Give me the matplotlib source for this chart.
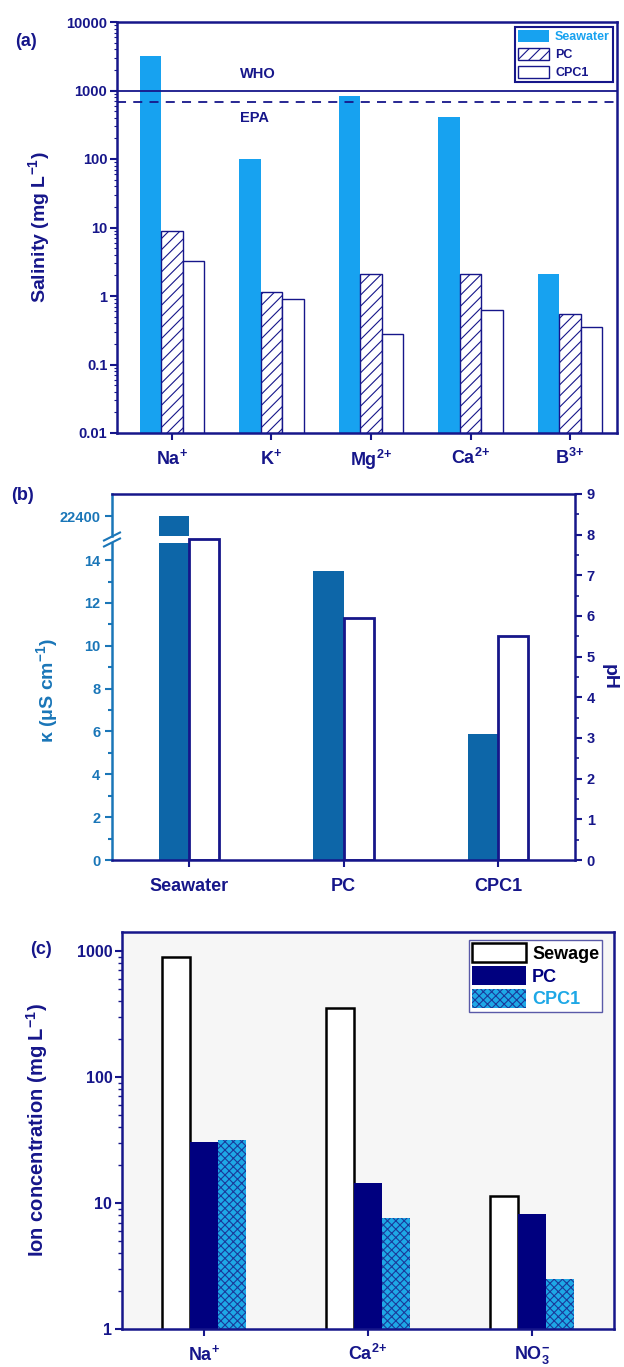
import matplotlib
matplotlib.use('Agg')
import matplotlib.pyplot as plt
import numpy as np
from matplotlib.ticker import LogLocator, NullFormatter, FixedLocator, MultipleLocator, FuncFormatter
from matplotlib.lines import Line2D

plt.rcParams['font.family'] = ['Liberation Sans', 'DejaVu Sans']
plt.rcParams['font.weight'] = 'bold'
plt.rcParams['axes.labelweight'] = 'bold'
plt.rcParams['mathtext.fontset'] = 'custom'
plt.rcParams['mathtext.rm'] = 'Liberation Sans:bold'
plt.rcParams['mathtext.it'] = 'Liberation Sans:bold'
plt.rcParams['mathtext.bf'] = 'Liberation Sans:bold'
plt.rcParams['mathtext.default'] = 'rm'
plt.rcParams['hatch.linewidth'] = 0.8

# ---------------- data ----------------
ions_a = ['Na$^{+}$', 'K$^{+}$', 'Mg$^{2\\!+}$', 'Ca$^{2\\!+}$', 'B$^{3\\!+}$']
seawater_a = [3170, 100, 835, 410, 2.1]
pc_a = [8.9, 1.14, 2.1, 2.1, 0.54]
cpc1_a = [3.2, 0.9, 0.28, 0.62, 0.35]
who_limit = 1000
epa_limit = 690

samples_b = ['Seawater', 'PC', 'CPC1']
kappa_b = [22400, 13.5, 5.9]
ph_b = [7.9, 5.95, 5.52]

ions_c = ['Na$^{+}$', 'Ca$^{2\\!+}$', 'NO$_3^{-}$']
sewage_c = [900, 353, 11.4]
pc_c = [30.5, 14.4, 8.2]
cpc1_c = [31.7, 7.6, 2.5]

# ---------------- style ----------------
NAVY = '#16168a'
SKY = '#17a2f0'
KBLUE = '#0d66a8'
KTXT = '#1a76b8'
CYAN = '#1ea8e6'
W, H = 624, 1367

fig = plt.figure(figsize=(W / 100, H / 100), dpi=100)


def box(l, t, r, b):
    return [l / W, 1 - b / H, (r - l) / W, (b - t) / H]


# ================= panel (a) =================
ax = fig.add_axes(box(117, 22, 617, 433))
xa = np.arange(1, len(ions_a) + 1)
wa = 0.216
ax.bar(xa - wa, seawater_a, wa, color=SKY, log=True, label='Seawater', zorder=2)
ax.bar(xa, pc_a, wa, facecolor='white', edgecolor=NAVY, hatch='///', lw=1.0,
       log=True, label='PC', zorder=2)
ax.bar(xa + wa, cpc1_a, wa, facecolor='white', edgecolor=NAVY, lw=1.0,
       log=True, label='CPC1', zorder=2)
ax.set_ylim(0.01, 10000)
ax.set_xlim(0.45, 5.47)
ax.axhline(who_limit, color=NAVY, lw=1.3, zorder=3)
ax.axhline(epa_limit, color=NAVY, lw=1.3, ls=(0, (5, 4)), zorder=3)
ax.text(1.68, 1740, 'WHO', color=NAVY, fontsize=10.5, ha='left', va='center')
ax.text(1.68, 400, 'EPA', color=NAVY, fontsize=10.5, ha='left', va='center')
ax.set_xticks(xa)
ax.set_xticklabels(ions_a)
ax.yaxis.set_major_locator(FixedLocator([0.01, 0.1, 1, 10, 100, 1000, 10000]))
ax.yaxis.set_minor_locator(LogLocator(base=10, subs=np.arange(2, 10), numticks=20))
ax.yaxis.set_major_formatter(FuncFormatter(lambda v, p: f'{v:g}'))
ax.yaxis.set_minor_formatter(NullFormatter())
ax.tick_params(axis='y', which='major', direction='out', length=5, width=1.5,
               colors=NAVY, labelsize=10.5, pad=2)
ax.tick_params(axis='y', which='minor', direction='out', length=2.5, width=0.8, colors=NAVY)
ax.tick_params(axis='x', direction='out', length=5, width=1.5, colors=NAVY,
               labelsize=13, pad=6)
for s in ax.spines.values():
    s.set_color(NAVY)
    s.set_linewidth(1.8)
ax.set_ylabel('Salinity (mg L$^{-1}$)', color=NAVY, fontsize=14)
ax.yaxis.set_label_coords(-0.13, 0.5)
leg = ax.legend(loc='upper right', bbox_to_anchor=(0.992, 0.988), borderaxespad=0,
                fontsize=9, handlelength=2.5, handleheight=1.05, labelspacing=0.4,
                handletextpad=0.45, borderpad=0.25, fancybox=False, framealpha=1)
leg.get_frame().set_edgecolor(NAVY)
leg.get_frame().set_linewidth(1.5)
for t, c in zip(leg.get_texts(), [SKY, NAVY, NAVY]):
    t.set_color(c)
fig.text(26 / W, 1 - 42 / H, '(a)', color=NAVY, fontsize=13, ha='center', va='center')

# ================= panel (b) =================
xb = np.arange(1, len(samples_b) + 1)
wb = 0.195
ax_low = fig.add_axes(box(112, 543, 575, 860))
ax_up = fig.add_axes(box(112, 494, 575, 536))
ax_ph = fig.add_axes(box(112, 494, 575, 860), zorder=5)
ax_ph.patch.set_alpha(0)

for a in (ax_low, ax_up):
    a.bar(xb, kappa_b, -wb, align='edge', color=KBLUE, zorder=2)
    a.set_xlim(0.5, 3.5)
    a.set_xticks([])
    for k in ('top', 'right', 'bottom'):
        a.spines[k].set_visible(False)
    a.spines['left'].set_color(KTXT)
    a.spines['left'].set_linewidth(1.8)
    a.tick_params(axis='y', which='both', colors=KTXT, labelsize=10.5, width=1.5)
    a.tick_params(axis='y', which='major', length=5)
    a.tick_params(axis='y', which='minor', length=3)

ax_low.set_ylim(0, 14.8)
ax_low.yaxis.set_major_locator(MultipleLocator(2))
ax_low.yaxis.set_minor_locator(MultipleLocator(1))
ax_up.set_ylim(22000, 22840)
ax_up.set_yticks([22400])
ax_up.set_yticklabels(['22400'])
ax_low.set_ylabel('κ (μS cm$^{-1}$)', color=KTXT, fontsize=14)
ax_low.yaxis.set_label_coords(-0.112, 0.536)

ax_ph.bar(xb, ph_b, wb, align='edge', facecolor='white', edgecolor=NAVY, lw=2.0, zorder=2)
ax_ph.set_xlim(0.5, 3.5)
ax_ph.set_ylim(0, 9)
ax_ph.yaxis.tick_right()
ax_ph.yaxis.set_label_position('right')
ax_ph.yaxis.set_major_locator(MultipleLocator(1))
ax_ph.yaxis.set_minor_locator(MultipleLocator(0.5))
ax_ph.set_xticks(xb)
ax_ph.set_xticklabels(samples_b)
ax_ph.spines['left'].set_visible(False)
for k in ('top', 'right', 'bottom'):
    ax_ph.spines[k].set_color(NAVY)
    ax_ph.spines[k].set_linewidth(1.8)
ax_ph.tick_params(axis='y', which='major', direction='out', length=5, width=1.5,
                  colors=NAVY, labelsize=10.5)
ax_ph.tick_params(axis='y', which='minor', direction='out', length=3, width=1.2, colors=NAVY)
ax_ph.tick_params(axis='x', direction='out', length=5, width=1.5, colors=NAVY,
                  labelsize=13, pad=8)
ax_ph.set_ylabel('pH', color=NAVY, fontsize=14, rotation=270, va='center')
ax_ph.yaxis.set_label_coords(1.073, 0.5)

# axis break marks on the κ axis
for dy in (-3, 3):
    yc = 539.5 + dy
    fig.add_artist(Line2D([(112 - 8) / W, (112 + 8) / W],
                          [1 - (yc + 4) / H, 1 - (yc - 4) / H],
                          color=KTXT, lw=1.5, transform=fig.transFigure))
fig.text(22 / W, 1 - 495 / H, '(b)', color=NAVY, fontsize=13, ha='center', va='center')

# ================= panel (c) =================
axc = fig.add_axes(box(122, 932, 614, 1329))
axc.set_facecolor('#f6f6f6')
xc = np.arange(1, len(ions_c) + 1)
wc = 0.17
axc.bar(xc - wc, sewage_c, wc, facecolor='white', edgecolor='black', lw=1.8,
        log=True, label='Sewage', zorder=2)
axc.bar(xc, pc_c, wc, color='#00007f', log=True, label='PC', zorder=2)
axc.bar(xc + wc, cpc1_c, wc, facecolor=CYAN, edgecolor='#1a3a9a', hatch='xxxx', lw=0,
        log=True, label='CPC1', zorder=2)
axc.set_ylim(1, 1414)
axc.set_xlim(0.5, 3.5)
axc.set_xticks(xc)
axc.set_xticklabels(ions_c)
axc.yaxis.set_major_locator(FixedLocator([1, 10, 100, 1000]))
axc.yaxis.set_minor_locator(LogLocator(base=10, subs=np.arange(2, 10), numticks=20))
axc.yaxis.set_major_formatter(FuncFormatter(lambda v, p: f'{v:g}'))
axc.yaxis.set_minor_formatter(NullFormatter())
axc.tick_params(axis='y', which='major', direction='out', length=5, width=1.5,
                colors=NAVY, labelsize=11.5, pad=2)
axc.tick_params(axis='y', which='minor', direction='out', length=3, width=1.0, colors=NAVY)
axc.tick_params(axis='x', direction='out', length=5, width=1.5, colors=NAVY,
                labelsize=13, pad=6)
for s in axc.spines.values():
    s.set_color(NAVY)
    s.set_linewidth(1.8)
axc.set_ylabel('Ion concentration (mg L$^{-1}$)', color=NAVY, fontsize=14.5)
axc.yaxis.set_label_coords(-0.146, 0.5)
legc = axc.legend(loc='upper right', bbox_to_anchor=(0.976, 0.98), borderaxespad=0,
                  fontsize=13, handlelength=3.0, handleheight=1.28, labelspacing=0.17,
                  handletextpad=0.33, borderpad=0.17, fancybox=False, framealpha=1)
legc.get_frame().set_edgecolor('#5a5aa8')
legc.get_frame().set_linewidth(1.0)
for t, c in zip(legc.get_texts(), ['black', '#00007f', CYAN]):
    t.set_color(c)
fig.text(41 / W, 1 - 950 / H, '(c)', color=NAVY, fontsize=13, ha='center', va='center')

fig.savefig('out.png', dpi=100)
